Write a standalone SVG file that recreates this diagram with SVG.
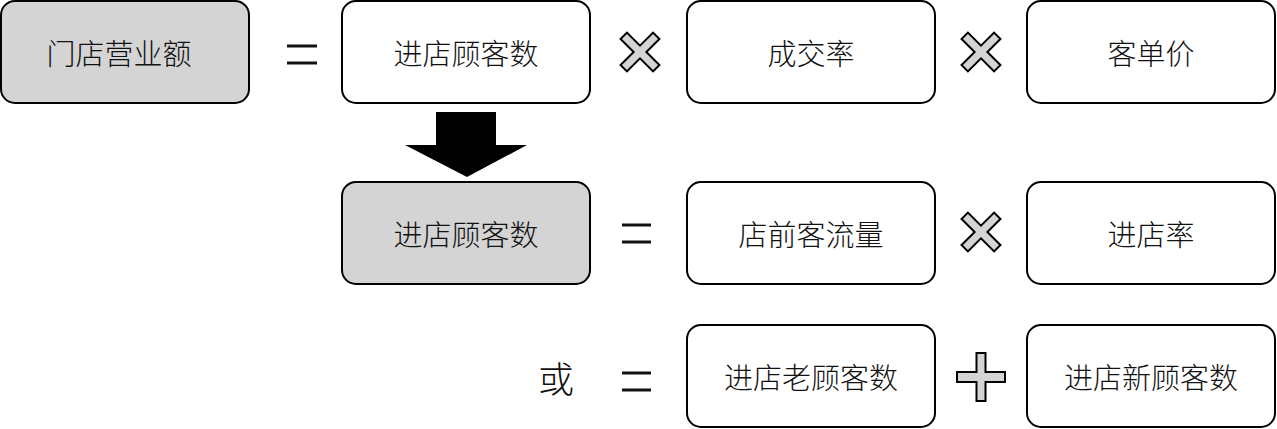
<svg xmlns="http://www.w3.org/2000/svg" width="1277" height="429" viewBox="0 0 1277 429">
<defs>
<style>
.box{fill:#fff;stroke:#000;stroke-width:2}
.gray{fill:#d4d4d4}
.t{font-family:"Noto Sans CJK SC","Noto Sans",sans-serif;font-size:29px;fill:#111;text-anchor:middle;dominant-baseline:central;font-weight:300}
.op{fill:#d4d4d4;stroke:#000;stroke-width:2;stroke-linejoin:miter}
.eq{stroke:#111;stroke-width:3}
</style>
<path id="times" d="M-4.5,-4.5 L-4.5,-23 L4.5,-23 L4.5,-4.5 L23,-4.5 L23,4.5 L4.5,4.5 L4.5,23 L-4.5,23 L-4.5,4.5 L-23,4.5 L-23,-4.5 Z"/>
</defs>
<rect width="1277" height="429" fill="#fff"/>
<g id="n-revenue"><rect class="box gray" x="1" y="1" width="248" height="102" rx="14"/><text class="t" x="119" y="52">门店营业额</text></g>
<g id="n-visitors1"><rect class="box" x="342" y="1" width="248" height="102" rx="14"/><text class="t" x="466" y="52">进店顾客数</text></g>
<g id="n-conv"><rect class="box" x="687" y="1" width="248" height="102" rx="14"/><text class="t" x="811" y="52">成交率</text></g>
<g id="n-price"><rect class="box" x="1027" y="1" width="248" height="102" rx="14"/><text class="t" x="1151" y="52">客单价</text></g>
<g id="n-visitors2"><rect class="box gray" x="342" y="182" width="248" height="102" rx="14"/><text class="t" x="466" y="233">进店顾客数</text></g>
<g id="n-traffic"><rect class="box" x="687" y="182" width="248" height="102" rx="14"/><text class="t" x="811" y="233">店前客流量</text></g>
<g id="n-entry"><rect class="box" x="1027" y="182" width="248" height="102" rx="14"/><text class="t" x="1151" y="233">进店率</text></g>
<g id="n-old"><rect class="box" x="687" y="325" width="248" height="102" rx="14"/><text class="t" x="811" y="376">进店老顾客数</text></g>
<g id="n-new"><rect class="box" x="1027" y="325" width="248" height="102" rx="14"/><text class="t" x="1151" y="376">进店新顾客数</text></g>
<g id="connectors">
<line class="eq" x1="287" y1="46" x2="317" y2="46"/><line class="eq" x1="287" y1="63" x2="317" y2="63"/>
<use href="#times" class="op" transform="translate(640,52) rotate(45)"/>
<use href="#times" class="op" transform="translate(981,52) rotate(45)"/>
<polygon points="436,112 496,112 496,145 527,145 467,177 405,145 436,145" fill="#000"/>
<line class="eq" x1="622" y1="225" x2="651" y2="225"/><line class="eq" x1="622" y1="242" x2="651" y2="242"/>
<use href="#times" class="op" transform="translate(981,232) rotate(45)"/>
<text class="t" x="556" y="377" style="font-size:36px">或</text>
<line class="eq" x1="622" y1="373" x2="651" y2="373"/><line class="eq" x1="622" y1="390" x2="651" y2="390"/>
<path class="op" d="M976.5,353 L985.5,353 L985.5,372 L1005,372 L1005,382 L985.5,382 L985.5,401 L976.5,401 L976.5,382 L957,382 L957,372 L976.5,372 Z"/>
</g>
</svg>
